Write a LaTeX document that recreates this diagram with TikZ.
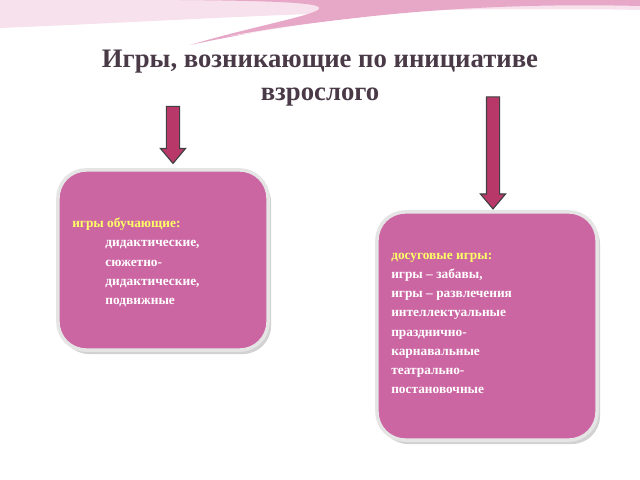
\documentclass[tikz,border=0pt]{standalone}
\usepackage{fontspec}
\setmainfont{Liberation Serif}
\usetikzlibrary{shapes.arrows,positioning}
\definecolor{boxpink}{HTML}{CC66A3}
\definecolor{arrowred}{HTML}{B8386A}
\definecolor{titlegray}{HTML}{4A3A48}
\definecolor{swoosh}{HTML}{E7A8C8}
\definecolor{headyellow}{HTML}{FFFF66}
\tikzset{
  gamebox/.style={rectangle, rounded corners=20pt, fill=boxpink, draw=gray!20, line width=2.5pt},
  boxshadow/.style={rectangle, rounded corners=20pt, fill=gray!35},
  downarrow/.style={single arrow, shape border rotate=270, draw=black!75, fill=arrowred, line width=0.8pt,
    single arrow head extend=0.15cm, single arrow tip angle=80, inner sep=0.15cm},
  boxtext/.style={font=\bfseries\fontsize{9.5}{13.6}\selectfont, text=white, align=left, anchor=north west, inner sep=0pt},
}
\begin{document}
\begin{tikzpicture}[x=0.025cm,y=-0.025cm]
\useasboundingbox (0,0) rectangle (640,480);
% swoosh at the top
\fill[swoosh!35] (0,0) -- (640,0) -- (640,10) .. controls (400,5) and (200,20) .. (0,28) -- cycle;
\fill[swoosh] (180,0) -- (640,0) -- (640,6) .. controls (480,2) and (330,15) .. (190,45) .. controls (300,12) and (420,2) .. (180,0) -- cycle;
\fill[white,opacity=0.8] (230,36) .. controls (370,10) and (500,8) .. (640,18) -- (640,24) .. controls (500,16) and (370,18) .. (230,36) -- cycle;
% title
\node[font=\bfseries\fontsize{19}{24}\selectfont, text=titlegray, align=center] (title) at (320,78)
  {Игры, возникающие по инициативе\\взрослого};
% arrows
\node[downarrow, minimum height=1.425cm] (arr1) at (173,131) {};
\node[downarrow, minimum height=2.8cm] (arr2) at (493,149) {};
% boxes
\node[boxshadow, minimum width=5.25cm, minimum height=4.5cm] at (166,264) {};
\node[gamebox, minimum width=5.25cm, minimum height=4.5cm] (learn) at (163,260) {};
\node[boxshadow, minimum width=5.5cm, minimum height=5.7cm] at (490,330) {};
\node[gamebox, minimum width=5.5cm, minimum height=5.7cm] (leisure) at (487,326) {};
% texts
\node[boxtext] (learntext) at (72,218) {{\color{headyellow}игры обучающие:}\\
  \hspace{0.83cm}дидактические,\\
  \hspace{0.83cm}сюжетно-\\
  \hspace{0.83cm}дидактические,\\
  \hspace{0.83cm}подвижные};
\node[boxtext] (leisuretext) at (391,253) {{\color{headyellow}досуговые игры:}\\
  игры – забавы,\\
  игры – развлечения\\
  интеллектуальные\\
  празднично-\\
  карнавальные\\
  театрально-\\
  постановочные};
\end{tikzpicture}
\end{document}
